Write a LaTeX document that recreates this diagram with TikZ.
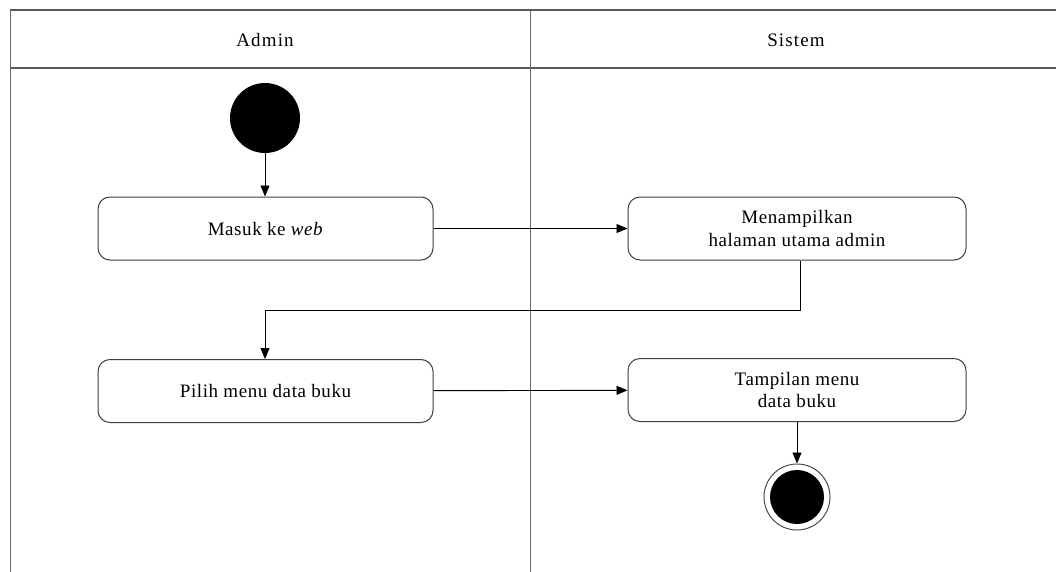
\documentclass[tikz,border=0pt]{standalone}
\usepackage{fontspec}
\setmainfont{Liberation Serif}
\usetikzlibrary{arrows.meta}
\begin{document}
\begin{tikzpicture}[x=1pt,y=-1pt,
  lane/.style={draw=black!65,line width=1.6pt},
  divline/.style={draw=black!60,line width=1pt},
  act/.style={draw=black!75,line width=1pt,rounded corners=12pt,minimum width=335pt,minimum height=63pt,align=center,font=\fontsize{19}{22}\selectfont\addfontfeature{LetterSpace=3},inner sep=0pt},
  flow/.style={draw=black,line width=0.9pt,-{Triangle[length=11pt,width=9pt]}},
  lbl/.style={font=\fontsize{19}{22}\selectfont\addfontfeature{LetterSpace=6}}]
\useasboundingbox (0,0) rectangle (1056,572);
\fill[white] (0,0) rectangle (1056,572);
% swimlanes
\draw[lane] (10,10) -- (1058,10);
\draw[lane] (10,68) -- (1058,68);
\draw[divline] (10,10) -- (10,574);
\draw[divline] (530,10) -- (530,574);
\node[lbl] (hA) at (265,40) {Admin};
\node[lbl] (hS) at (796,40) {Sistem};
% nodes
\node[circle,fill=black,minimum size=70pt,inner sep=0pt] (start) at (265,118) {};
\node[act] (masuk) at (265.5,228.5) {Masuk ke \textit{web}};
\node[act,minimum width=338pt] (tampil1) at (797,228.5) {Menampilkan\\halaman utama admin};
\node[act] (pilih) at (265.5,391) {Pilih menu data buku};
\node[act,minimum width=338pt] (tampil2) at (797,390) {Tampilan menu\\data buku};
\node[circle,draw=black!70,line width=1pt,fill=white,minimum size=66pt,inner sep=0pt] (end) at (797,497) {};
\node[circle,fill=black,minimum size=54pt,inner sep=0pt] (endin) at (end) {};
\coordinate (b1) at (800,310);
\coordinate (b2) at (265,310);
% flows
\draw[flow] (start) -- (start |- masuk.north);
\draw[flow] (masuk) -- (tampil1);
\draw[flow] (tampil1.south -| b1) -- (b1) -- (b2) -- (pilih.north -| b2);
\draw[flow] (pilih) -- (tampil2);
\draw[flow] (tampil2) -- (end);
\end{tikzpicture}
\end{document}
